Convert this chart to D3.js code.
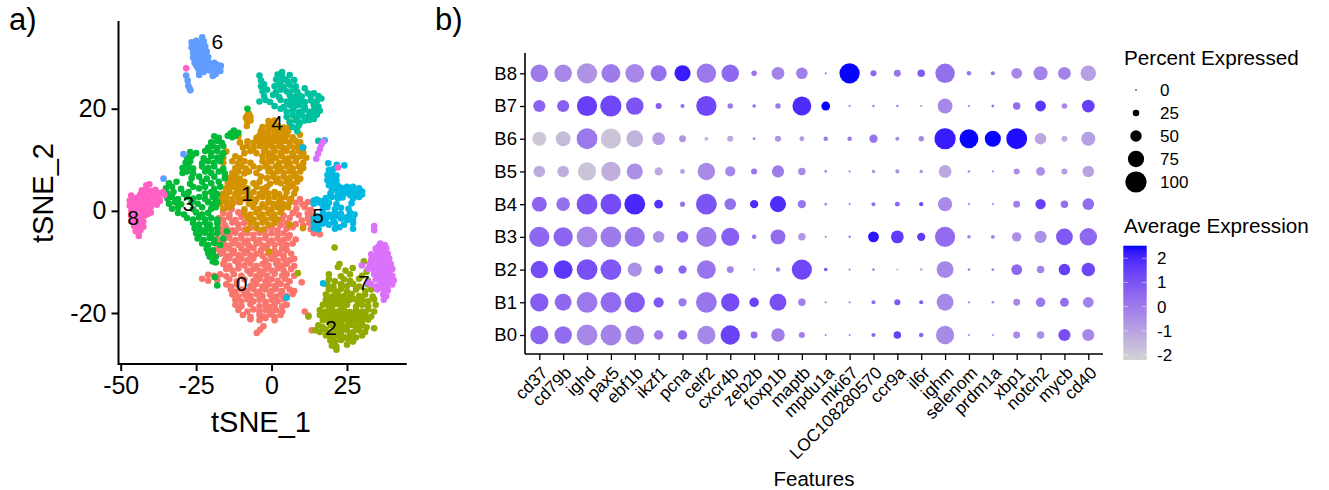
<!DOCTYPE html>
<meta charset="utf-8">
<style>
  html, body { margin: 0; background: #fff; }
  text { font-family: "Liberation Sans", Arial, sans-serif; fill: #000; }
</style>
<body>
<svg id="fig" width="1329" height="490"></svg>
<script src="https://d3js.org/d3.v7.min.js"></script>
<script>
// a) tSNE points, read off the picture cluster by cluster
var c0 = [[9.4,2.3],[8,1.6],[10.2,1.3],[12,1.7],[-13,1.5],[-11,1.8],[-15,.6],[-13.2,.3],[8.2,.4],[11,.7],[13,.2],[-16,-.4],[-14,-.7],[-11,-.3],[4,-.9],[7,-.4],[9,-.8],[12,-.5],[13.6,-.9],[-17.5,-1.4],[-16,-1.7],[-14,-1.3],[-12,-1.8],[-10,-1.2],[3.5,-1.7],[6,-1.4],[10,-1.9],[12,-1.5],[14.2,-1.4],[-17.6,-2.5],[-15.5,-2.8],[-13,-2.3],[-11,-2.7],[-9,-2.4],[3,-2.8],[5,-2.4],[8,-2.6],[10.5,-2.9],[12.5,-2.4],[14.5,-2.7],[-17,-3.6],[-15,-3.3],[-13,-3.8],[-11,-3.4],[-9,-3.7],[-7,-3.3],[-2,-3.6],[0,-3.3],[2,-3.8],[5,-3.5],[7,-3.2],[13,-3.6],[15.5,-3.4],[-16,-4.4],[-14,-4.7],[-12,-4.3],[-10,-4.8],[-8,-4.4],[-6,-4.7],[-4,-4.3],[-2,-4.8],[0,-4.4],[2,-4.7],[4,-4.4],[6,-4.8],[14,-4.4],[16,-4.6],[-18,-5.5],[-16,-5.8],[-14,-5.3],[-12,-5.7],[-10,-5.4],[-8,-5.8],[-6,-5.4],[-4,-5.7],[-2,-5.3],[0,-5.8],[2,-5.4],[4,-5.7],[5.5,-5.3],[8,-5.6],[-17,-6.4],[-15,-6.8],[-13,-6.4],[-11,-6.7],[-9,-6.3],[-7.5,-6.8],[-5,-6.4],[-3,-6.8],[-1,-6.4],[1,-6.7],[3,-6.3],[5,-6.7],[7,-6.4],[-18,-7.4],[-16,-7.7],[-14,-7.4],[-12.5,-7.8],[-10,-7.4],[-8,-7.7],[-6,-7.3],[-3.5,-7.7],[-1.5,-7.4],[1,-7.8],[3.5,-7.4],[5,-7.7],[-17,-8.4],[-15,-8.8],[-13,-8.4],[-11,-8.7],[-9,-8.3],[-7,-8.7],[-5,-8.4],[-3,-8.8],[-1,-8.4],[1,-8.7],[2.5,-8.3],[4,-8.8],[6.5,-8.4],[-15.5,-9.7],[-14,-9.3],[-12,-9.8],[-10,-9.4],[-8,-9.7],[-6,-9.3],[-2,-9.7],[0,-9.4],[2,-9.8],[4,-9.4],[6,-9.7],[7.5,-9.4],[-16,-10.4],[-14,-10.8],[-11,-10.4],[-9,-10.7],[-7,-10.3],[-5,-10.8],[-3,-10.4],[-1,-10.7],[1.5,-10.3],[3.5,-10.7],[5,-10.4],[7.5,-10.8],[-15,-11.4],[-13,-11.7],[-11,-11.3],[-8,-11.7],[-6,-11.4],[-4,-11.8],[-2,-11.4],[0,-11.7],[2,-11.3],[4,-11.7],[6.5,-11.4],[-17,-12.4],[-19,-12.7],[-21,-12.5],[-15,-12.8],[-12.5,-12.4],[-10,-12.7],[-7,-12.3],[-5,-12.8],[-3,-12.4],[-1.5,-12.7],[1,-12.3],[3.5,-12.7],[5,-12.4],[7.5,-12.7],[-23,-13.3],[-21,-13.7],[-18,-13.5],[-14,-13.4],[-11.5,-13.8],[-9,-13.4],[-6,-13.7],[-4,-13.3],[-2,-13.8],[0,-13.4],[2,-13.7],[4.5,-13.3],[6,-13.8],[10,-14],[-15,-14.4],[-13.5,-14.8],[-11.5,-14.4],[-7,-14.7],[-5,-14.3],[-3,-14.8],[-1,-14.4],[1,-14.7],[3,-14.3],[5,-14.7],[-13.5,-15.4],[-12,-15.8],[-10,-15.4],[-8,-15.7],[-6,-15.3],[-4,-15.8],[-2,-15.4],[0,-15.7],[1.5,-15.3],[3.5,-15.7],[6,-15.4],[7.5,-15.7],[-13,-16.4],[-11,-16.8],[-9,-16.4],[-7,-16.7],[-5,-16.3],[-3,-16.7],[-.5,-16.4],[1.5,-16.8],[3,-16.4],[5,-16.7],[7,-16.3],[-12,-17.4],[-10,-17.7],[-8,-17.3],[-6,-17.7],[-4,-17.4],[-2,-17.8],[0,-17.4],[2,-17.7],[4,-17.3],[-12,-18.4],[-10,-18.7],[-7,-18.3],[-4,-18.7],[-2,-18.4],[-.5,-18.8],[1,-18.4],[3.5,-18.7],[5,-18.4],[-11,-19.4],[-8,-19.7],[-6,-19.3],[-4,-19.7],[-2,-19.4],[0,-19.8],[1.5,-19.4],[3.5,-19.7],[-9.5,-20.4],[-7,-20.8],[-4,-20.4],[-2.5,-20.7],[-.5,-20.3],[1,-20.8],[3,-20.4],[-7,-21.2],[-4,-21.4],[-2,-21],[1,-21.4],[11,-19.7],[12.2,-20.5],[13.3,-23.4],[-4.9,-23.9],[-3.8,-23.3],[-2.7,-22.6]];
var c1 = [[-8,18.7],[-7,18.4],[-7.5,19],[-8.5,18.2],[-8,17.5],[-7,17.7],[-1,17.6],[0,17.3],[1,17.7],[6,17.5],[-8.2,16.6],[-3,16.4],[-1,16.8],[.5,16.4],[2,16.7],[4,16.3],[6,16.6],[-3.5,15.6],[-2,15.3],[-1,15.8],[1,15.4],[2.5,15.7],[4,15.3],[5.5,15.6],[-11,14.6],[-5,14.3],[-4,14.7],[-2.5,14.4],[-1,14.8],[.5,14.4],[2,14.7],[3.5,14.3],[5,14.7],[7,14.4],[9.4,14.9],[-10.5,13.4],[-8,13.6],[-6,13.3],[-4.5,13.7],[-3,13.4],[-1.5,13.8],[0,13.4],[1.5,13.7],[3,13.3],[4.5,13.7],[6,13.4],[8,13.7],[9.5,13.4],[-9.5,12.4],[-8,12.7],[-6,12.3],[-4,12.7],[-2,12.4],[-1,12.8],[.5,12.4],[2.5,12.7],[4,12.3],[6,12.7],[7.5,12.4],[9,12.7],[10.5,12.4],[-15,11.6],[-9,11.3],[-7,11.7],[-5,11.3],[-2.5,11.7],[-1,11.3],[1,11.7],[3,11.4],[5,11.7],[7,11.3],[9,11.7],[10.5,11.4],[-16,10.4],[-12,10.7],[-10.5,10.3],[-3,10.7],[-1,10.4],[.3,10.8],[1.5,10.4],[3.5,10.7],[5.5,10.3],[7,10.7],[8.5,10.4],[10,10.7],[11.5,10.4],[-16,9.4],[-13,9.7],[-11,9.3],[-9,9.7],[-7,9.4],[-3,9.7],[-1.5,9.3],[0,9.7],[2.5,9.4],[4.5,9.7],[6,9.3],[8,9.7],[10.5,9.4],[-12,8.4],[-10,8.7],[-8.5,8.3],[-6,8.7],[-4,8.4],[-2,8.7],[-.5,8.3],[1.5,8.7],[3,8.4],[5,8.7],[7,8.3],[9,8.7],[10.5,8.4],[-13,7.4],[-11,7.7],[-9,7.3],[-7.5,7.7],[-5,7.4],[-1,7.7],[.5,7.3],[2,7.7],[4,7.4],[6,7.7],[7.5,7.3],[9.5,7.7],[-14,6.4],[-12,6.7],[-10.5,6.3],[-3.5,6.7],[-1.5,6.4],[.5,6.7],[2,6.3],[4,6.7],[6,6.4],[8,6.7],[9.5,6.3],[-14.5,5.4],[-12.5,5.7],[-11,5.3],[-9,5.7],[-6,5.4],[-4,5.7],[-.5,5.3],[1.5,5.7],[3,5.4],[5,5.7],[7,5.3],[8.5,5.7],[-15,4.4],[-13,4.7],[-11.5,4.3],[-9.5,4.7],[-8,4.4],[-5,4.7],[-3,4.3],[-1.5,4.7],[4.5,4.4],[6,4.7],[8,4.3],[-16,3.4],[-14,3.7],[-12,3.3],[-10,3.7],[-8,3.4],[-6,3.7],[-4,3.3],[-2,3.7],[-1,3.4],[1,3.7],[2.5,3.3],[5,3.7],[7.5,3.4],[-16.5,2.4],[-15,2.7],[-13,2.3],[-11,2.7],[-9,2.4],[-7,2.7],[-5,2.3],[-3,2.7],[-1,2.4],[1,2.7],[3,2.3],[4.5,2.7],[6.5,2.4],[-17,1.4],[-15,1.7],[-13,1.3],[-10.5,1.7],[-7.5,1.4],[-5.5,1.7],[-3,1.3],[-1,1.7],[.5,1.4],[2.5,1.7],[4,1.3],[6,1.7],[-16,.4],[-14,.7],[-9,.3],[-6,.7],[-4,.4],[-2,.7],[0,.3],[2,.7],[3.5,.4],[5.5,.7],[-9,-.4],[-7,-.7],[-5,-.3],[-3,-.7],[-1,-.4],[1,-.7],[3,-.3],[-8,-1.4],[-6,-1.7],[-4,-1.3],[-2,-1.7],[0,-1.4],[2,-1.7],[-7,-2.4],[-5,-2.7],[-3,-2.3],[-1,-2.7],[1,-2.4],[6,-2.7],[-5,-3.4],[-3,-3.7],[-8,-3.6],[10.4,-3.4],[-.8,-8]];
var c2 = [[22.5,-10.4],[22,-11],[26.9,-11.2],[30.6,-9.9],[24.5,-11.7],[19,-12.4],[23,-12.8],[26,-12.4],[30,-12.7],[31.5,-11.9],[19,-13.4],[21,-13.8],[24,-13.4],[26,-13.7],[29,-13.3],[32,-13.7],[18.5,-14.4],[20.5,-14.8],[23,-14.4],[25,-14.7],[27,-14.3],[29,-14.8],[32,-14.4],[19,-15.4],[21,-15.7],[23,-15.3],[25,-15.8],[28,-15.4],[31,-15.7],[33,-15.4],[18,-16.4],[20,-16.8],[22,-16.4],[24,-16.7],[26.5,-16.3],[29,-16.7],[31,-16.4],[33.5,-16.8],[18,-17.4],[20,-17.7],[22,-17.3],[24,-17.7],[26,-17.4],[28.5,-17.8],[30,-17.4],[32,-17.7],[34,-17.3],[17,-18.4],[19,-18.7],[21,-18.3],[23,-18.7],[25,-18.4],[28,-18.8],[30,-18.4],[32,-18.7],[34.5,-18.4],[16,-19.4],[18,-19.7],[20,-19.3],[22,-19.7],[24,-19.4],[26,-19.8],[28,-19.4],[30,-19.7],[32,-19.3],[34,-19.7],[16,-20.4],[18,-20.7],[20,-20.3],[22,-20.7],[24,-20.4],[26,-20.8],[27.5,-20.4],[29,-20.7],[31,-20.3],[33,-20.7],[17,-21.4],[19,-21.7],[21,-21.3],[23,-21.7],[25,-21.4],[27,-21.8],[28.5,-21.4],[30,-21.7],[32,-21.3],[15.5,-22.4],[17,-22.8],[19.5,-22.4],[24,-22.7],[26,-22.3],[28,-22.7],[30,-22.4],[31.5,-22.8],[34,-23],[14.5,-23.4],[16,-23.7],[18,-23.3],[23,-23.7],[25,-23.4],[27,-23.8],[29,-23.4],[31,-23.7],[18,-24.4],[19.5,-24.7],[22,-24.3],[24,-24.7],[26,-24.4],[28,-24.8],[30,-24.4],[19.5,-25.4],[21,-25.7],[23,-25.3],[27,-25.6],[20,-26.4],[21.5,-26.6],[25,-26.2],[21.5,-27.2],[20.9,-7.2],[12.2,-20.7],[8.7,-12.2],[17.5,-20],[19,-20.2],[21,-20],[23,-20.2],[25,-20],[27,-20.2],[29,-20.1],[31,-19.9],[18,-21],[20,-21],[22,-21],[24,-21],[26,-21.2],[28,-21],[30,-21],[21,-22.3],[22.5,-22],[23,-22.8],[25,-22.6],[27,-22.4],[29,-22.6],[21,-23],[22,-23.5],[20,-24],[21,-24.6],[23,-25],[25,-25],[26,-25.3],[19,-17.2],[21,-17],[23,-17.2],[25,-17],[27,-17.2],[18.5,-18],[20,-18.2],[22,-18.1]];
var c3 = [[-12.5,15.7],[-11,15.3],[-13.5,15.2],[-19,14.6],[-17.5,14.3],[-14.5,14.7],[-13,14.4],[-12,14.7],[-20,13.4],[-18,13.7],[-16.5,13.3],[-21,12.4],[-19.5,12.7],[-18,12.3],[-16,12.7],[-27,11.5],[-25,11.3],[-22,11.7],[-20,11.4],[-18,11.7],[-16,11.3],[-28,10.4],[-26.5,10.7],[-22.5,10.3],[-20,10.7],[-18,10.4],[-16.5,10.7],[-28.5,9.4],[-27,9.7],[-23,9.3],[-21,9.7],[-19,9.4],[-17,9.7],[-29.5,8.4],[-27.5,8.7],[-26,8.3],[-23,8.7],[-21,8.4],[-19,8.7],[-16,8.3],[-29.5,7.4],[-28,7.7],[-26,7.3],[-22,7.7],[-20,7.4],[-17.5,7.7],[-15.5,7.3],[-26.5,6.4],[-24,6.7],[-21.5,6.3],[-19,6.7],[-15.5,6.4],[-34,5.4],[-31.5,5.7],[-27,5.3],[-23,5.7],[-20,5.4],[-17.5,5.7],[-35,4.4],[-33,4.7],[-30,4.3],[-26,4.7],[-24,4.4],[-22,4.7],[-19,4.3],[-17,4.7],[-34.5,3.4],[-32.5,3.7],[-29,3.3],[-27.5,3.7],[-22,3.4],[-20,3.7],[-18,3.3],[-34.5,2.4],[-33,2.7],[-31,2.3],[-28,2.7],[-26,2.4],[-24,2.7],[-22,2.3],[-19.5,2.7],[-18.5,2.2],[-34,1.4],[-32,1.7],[-30,1.3],[-26.5,1.7],[-24.5,1.4],[-21,1.7],[-19.5,1.3],[-18,1.7],[-33,.4],[-31,.7],[-26,.3],[-23,.7],[-20,.4],[-18.5,.7],[-31,-.4],[-29,-.7],[-25,-.3],[-23,-.7],[-21,-.4],[-28,-1.4],[-26,-1.7],[-24,-1.3],[-22,-1.7],[-20,-1.4],[-18,-1.7],[-26,-2.4],[-24,-2.7],[-22,-2.3],[-20.5,-2.7],[-18,-2.4],[-25.5,-3.4],[-23.5,-3.7],[-21.5,-3.3],[-20,-3.7],[-18,-3.4],[-14.8,-4],[-25,-4.4],[-24,-4.7],[-22,-4.3],[-20,-4.7],[-18,-4.4],[-24.5,-5.4],[-22.5,-5.7],[-20.5,-5.3],[-19,-5.7],[-16,-5.4],[-23,-6.4],[-21,-6.7],[-19,-6.3],[-17,-6.7],[-21.5,-7.4],[-19.5,-7.7],[-21,-8.3],[-20,-8.6],[-19.5,-8.2],[-20.5,-9],[-19.5,-9.3],[-18.5,-9],[-19.5,-9.9],[-18.5,-10.1],[-18.8,-13],[-18,-14.6],[-8,20],[-2.4,24]];
var c4 = [[3.5,27.2],[-4,26.5],[2,26.7],[3.5,26.3],[6,26.6],[-3.5,25.5],[1.5,25.7],[3,25.3],[4.5,25.7],[5.5,25.3],[7.5,25.6],[-3.5,24.4],[-2.5,24.8],[1,24.4],[2.5,24.7],[4,24.3],[6,24.7],[8,24.4],[11,24],[-3,23.4],[-1.5,23.7],[1.5,23.3],[3,23.7],[5,23.4],[7,23.7],[8.5,23.3],[12,23],[14,23],[-2.5,22.5],[.5,22.7],[2.5,22.3],[6,22.7],[7.5,22.3],[9,22.7],[10,22.4],[13,22.5],[15.5,22.5],[16.5,22],[-4,21.4],[-2,21.7],[-.5,21.3],[3,21.7],[5,21.4],[6.5,21.7],[8,21.3],[9.5,21.7],[11,21.3],[13,21.6],[15,21.5],[1,20.5],[3,20],[4,20.3],[6,20.7],[7.5,20.4],[9,20.7],[11,20.3],[14,20.7],[15.5,20.4],[5,19.4],[7,19.7],[9,19.3],[10.5,19.7],[12.5,19.4],[14,19.7],[16,19.6],[5,18.4],[7,18.7],[8.5,18.3],[10,18.7],[12,18.4],[13.5,18.7],[15,18.8],[6,17.4],[8,17.7],[9.5,17.3],[11,17.7],[12.5,17.8],[14,18],[7,16.4],[9,16.7],[8.5,15.6],[15.5,13.7]];
var c5 = [[18.8,9.3],[21.6,9],[24.1,8.9],[19,8],[20.5,8.2],[18.5,7],[20,7.3],[21.5,6.9],[18.5,6],[20,6.2],[21.5,5.9],[19,5],[20.5,5.2],[22,4.9],[23,4.5],[25,4.7],[26,4.4],[27,4.7],[29,4.4],[20,4],[21.5,4.2],[23.5,3.9],[25,3.7],[27,3.8],[28.5,4],[30,3.8],[19.5,3.4],[22,3.2],[24,3.4],[26,3.1],[28,3.3],[30,3.2],[18,2.5],[20,2.7],[22,2.4],[23.5,2.6],[27,2.4],[29,2.7],[14,2],[15,2.2],[16.5,1.9],[14,1.4],[16,1.6],[17.5,1.3],[19,1.6],[21.5,1.3],[26.5,1.5],[17,.4],[18.5,.7],[21,.3],[23,.6],[25.5,.4],[17,-.4],[19,-.7],[21,-.3],[23,-.6],[26,-.4],[27.5,-.7],[15,-1],[16.5,-1.2],[18,-.9],[20,-1.2],[22,-1],[25,-1.2],[27,-1],[14,-1.5],[16,-1.8],[18,-1.6],[20.5,-1.8],[23,-1.5],[25,-1.8],[27,-1.6],[14,-2.4],[15.5,-2.7],[17,-2.5],[19,-2.7],[21,-2.4],[24,-2.7],[27,-2.4],[14,-3.4],[15.5,-3.6],[21,-3.5],[22.5,-3.2],[27,-3.5],[17.6,13.8],[10.4,12.4],[17.1,-14.2],[5,-17]];
var c6 = [[-23,34],[-26.5,33],[-25,33.3],[-23.5,32.9],[-22.5,33.2],[-26.5,32],[-25,32.3],[-23.5,31.9],[-22,32.2],[-26,31],[-24.5,31.2],[-23,30.9],[-21.5,31.2],[-26,30],[-24.5,30.2],[-22.5,29.9],[-21,30.1],[-25.5,29],[-24,29.2],[-22.5,28.9],[-21,29.2],[-19,29],[-24.5,28],[-23,28.2],[-21.5,27.9],[-20,28.2],[-18,28],[-16.8,28.4],[-24,27.4],[-22.5,27.2],[-20.5,27.5],[-18.5,27.2],[-17,27.4],[-24,26.6],[-19.5,26.4],[-18.5,26.8],[-24,32.5],[-25.5,31.6],[-23.6,30.4],[-22,30.6],[-25,28.5],[-23,29.4],[-21,28.6],[-19.5,28.7],[-18,28.6],[-22,27.6],[-28.3,26.5],[-27.8,25.5],[-27.6,24.5],[-27.2,24],[-26.9,23.6],[-35.8,6.3],[-29.2,11.1]];
var c7 = [[36,-6.4],[37.5,-6.7],[34.5,-7.4],[36,-7.7],[38,-7.3],[33,-8.5],[35,-8.3],[37,-8.7],[38.5,-8.4],[33,-9.6],[35,-9.3],[37,-9.7],[39,-9.4],[32.5,-10.4],[34,-10.7],[36,-10.3],[38,-10.7],[39.5,-10.4],[32,-11.4],[34,-11.7],[36,-11.3],[38,-11.7],[40,-11.4],[34,-12.4],[36,-12.7],[38,-12.3],[40,-12.7],[34.5,-13.4],[36,-13.7],[38,-13.3],[40.5,-13.6],[33,-14.4],[35,-14.7],[37,-14.3],[38.5,-14.7],[40,-14.4],[35,-15.4],[37,-15.3],[38.5,-15.6],[37,-16.4],[38,-16.7],[37.2,-17.4],[35.5,-7],[37,-7.6],[34,-9],[36,-9],[38,-9],[33.5,-10],[35.5,-10],[37.5,-10],[39.6,-11],[33,-11],[35,-11],[37,-11],[39,-12],[35,-12],[37,-12],[39,-13],[37,-13],[35,-13],[37,-14],[39,-14.2],[36,-15],[29.9,-10.7],[32,-14],[34,-3],[34,-3.8],[17.2,13.6],[16.5,13],[16,12.1],[15.4,11.2],[14.8,10.2]];
var c8 = [[-41.5,5],[-40.5,5.2],[-43,4],[-41.5,4.2],[-40,3.9],[-38.5,4.1],[-37.5,3.5],[-36,3.7],[-46.5,3],[-43.5,3.2],[-42,2.9],[-40.5,3.1],[-39,2.8],[-37.5,2.7],[-35.5,3.1],[-47,2],[-45,2.2],[-43,1.9],[-41,2.1],[-39,1.8],[-37,2],[-47,1],[-45,1.2],[-43.5,.9],[-42,1.1],[-40,.8],[-38,1.2],[-46.5,0],[-45,.2],[-43,-.1],[-41.5,.1],[-40,-.3],[-46.5,-1],[-45,-.8],[-43.5,-1.1],[-42,-.9],[-46,-2],[-44.5,-1.8],[-42.5,-2.1],[-45.5,-3],[-44,-2.8],[-42.5,-3.1],[-45,-4],[-43.5,-3.8],[-44,-4.9],[-44.5,2.6],[-42.5,3.6],[-41,2.7],[-38,3.4],[-46,1.5],[-44,1.5],[-42,1.5],[-40,1.5],[-38.5,2.4],[-46,.5],[-44,.5],[-42,.4],[-41,-.6],[-45,-1.4],[-43.5,-1.7],[-44.5,-3.4],[-28.3,27.9],[22,8.5]];
var tsneClusters = [c0, c1, c2, c3, c4, c5, c6, c7, c8];
var tsneColours = ['#F8766D','#D39200','#93AA00','#00BA38','#00C19F','#00B9E3','#619CFF','#DB72FB','#FF61C3'];
var clusterLabels = [['0',-9.9,-15.6],['1',-8.1,1.9],['2',19.7,-24.4],['3',-27.6,-.1],['4',1.8,15.9],['5',15.4,-2.4],['6',-18,31.6],['7',30.6,-15.4],['8',-45.9,-2.8]];

// b) dot plot
var features = ['cd37','cd79b','ighd','pax5','ebf1b','ikzf1','pcna','celf2','cxcr4b','zeb2b','foxp1b','maptb','mpdu1a','mki67','LOC108280570','ccr9a','il6r','ighm','selenom','prdm1a','xbp1','notch2','mycb','cd40'];
var groups = ['B8','B7','B6','B5','B4','B3','B2','B1','B0'];
var pctExp = [
  [81,81,95,88,88,74,74,91,81,20,57,51,3,95,23,27,30,91,15,12,47,64,57,71],
  [54,54,95,100,81,23,13,95,20,10,20,88,37,3,5,5,3,68,3,6,30,47,20,57],
  [64,68,98,95,78,57,27,13,23,6,23,17,15,15,34,12,20,100,88,74,98,51,23,64],
  [51,51,85,91,74,34,17,81,44,23,54,30,6,3,10,13,10,57,5,3,23,37,23,51],
  [68,61,98,98,98,37,18,98,51,34,74,34,5,3,12,17,13,64,3,3,27,44,30,51],
  [95,91,98,98,95,51,51,95,85,15,68,30,3,5,47,57,34,95,10,12,40,54,78,81],
  [81,88,98,98,64,37,34,88,27,3,15,95,10,3,6,1,5,78,5,6,47,30,51,61],
  [85,78,98,98,95,44,34,98,85,40,78,30,3,3,12,23,13,78,3,5,27,40,37,47],
  [85,81,98,98,88,40,40,85,91,27,61,23,3,3,13,30,15,85,3,3,27,30,54,54]
];
var avgExp = [
  [0,-.3,-.6,0,-.3,.3,2.2,.1,.5,.2,-.2,-.1,0,2.5,.5,.2,.9,.3,.2,.3,-.3,-.2,-.2,-.9],
  [.6,.7,1.5,1.3,1,.7,.4,1.3,.1,.3,0,1.9,2.5,.2,-.3,-.3,-.5,-.3,-.1,.1,.4,1.7,-.3,1.5],
  [-1.9,-1.6,.1,-1.8,-1.4,-.9,-.6,-1.6,-1.2,-.3,-.6,-.8,-.1,.1,.2,-.4,-.3,2.2,2.5,2.5,2.4,-1.1,-1.3,-.9],
  [-1.2,-1.3,-1.8,-1.3,-.5,-1.2,-.9,-.4,-.3,.2,0,-.4,-.3,-.2,-.7,-.5,-.6,-1.1,-.3,-.3,-.5,-.5,-.9,-1],
  [.6,.3,1,1.2,2,1.8,.2,1,.3,1.9,1.9,.2,-.3,-.3,.3,.6,1.3,-.4,-.3,-.5,-.1,1.5,.3,.4],
  [.5,.6,-.3,0,.2,-.5,.4,0,.7,.1,.4,-.7,-.3,-.2,2.3,1.6,1.6,.4,-.1,-.1,-.5,-.5,.9,.5],
  [1.2,1.7,1.1,.9,-.5,.7,.6,.2,-.2,-.3,-.3,1.3,1,-.1,-.2,-.8,-.9,-.3,-.1,-.1,.5,-.2,1.5,1.3],
  [.8,.5,.1,.4,.8,.9,.1,.2,1.2,1.4,1.1,-.1,-.3,-.2,.5,.9,.8,-.3,-.3,-.3,-.3,.1,.3,-.2],
  [.6,.4,-.3,-.2,-.2,0,.4,-.3,1.4,.4,-.1,-.1,-.3,-.3,.5,1.5,.6,-.4,-.3,-.3,-.3,-.5,1.1,-.3]
];
var sizeBreaks = [0,25,50,75,100];
var colourBreaks = [2,1,0,-1,-2];

var svg = d3.select('#fig');
svg.append('rect').attr('width',1329).attr('height',490).attr('fill','#fff');

// ---- a) ----
var x1 = d3.scaleLinear().domain([-50,25]).range([120.7,347]);
var y1 = d3.scaleLinear().domain([-20,20]).range([313,108.7]);
var g1 = svg.append('g');

tsneClusters.forEach(function(pts,i){
  g1.append('g').selectAll('circle').data(pts).enter().append('circle')
    .attr('cx',function(d){return x1(d[0])})
    .attr('cy',function(d){return y1(d[1])})
    .attr('r',3.3)
    .attr('fill',tsneColours[i]);
});

g1.selectAll('.clab').data(clusterLabels).enter().append('text')
  .attr('class','clab')
  .attr('x',function(d){return x1(d[1])})
  .attr('y',function(d){return y1(d[2])})
  .attr('text-anchor','middle')
  .style('font-size','21px')
  .text(function(d){return d[0]});

function styleAxis(g,size){
  g.selectAll('path').attr('stroke','#000').attr('stroke-width',2);
  g.selectAll('line').attr('stroke','#000').attr('stroke-width',2);
  g.selectAll('text').style('font-size',size+'px').attr('fill','#000').style('font-family','"Liberation Sans", Arial, sans-serif');
}

var xAx1 = g1.append('g').attr('transform','translate(0,364)')
  .call(d3.axisBottom(x1).tickValues([-50,-25,0,25]).tickSize(7).tickPadding(5).tickFormat(String));
xAx1.select('.domain').attr('d','M118.5,0H406.7');
styleAxis(xAx1,25);
var yAx1 = g1.append('g').attr('transform','translate(118.5,0)')
  .call(d3.axisLeft(y1).tickValues([-20,0,20]).tickSize(7).tickPadding(5).tickFormat(String));
yAx1.select('.domain').attr('d','M0,21V365');
styleAxis(yAx1,25);

g1.append('text').attr('x',261).attr('y',432).attr('text-anchor','middle').style('font-size','29px').text('tSNE_1');
g1.append('text').attr('transform','translate(53,193) rotate(-90)').attr('text-anchor','middle').style('font-size','29px').text('tSNE_2');
svg.append('text').attr('x',9).attr('y',30).style('font-size','31px').text('a)');
svg.append('text').attr('x',435).attr('y',30).style('font-size','31px').text('b)');

// ---- b) ----
var x2 = d3.scalePoint().domain(features).range([539.3,1088.3]);
var y2 = d3.scalePoint().domain(groups).range([73.3,335]);
var rad = d3.scaleLinear().domain([0,100]).range([.8,10.6]);
var col = d3.scaleLinear().domain([-2.2,2.52]).range(['#D3D3D3','#0000FF']).interpolate(d3.interpolateLab);
var g2 = svg.append('g');

var rows = g2.selectAll('.row').data(groups).enter().append('g').attr('class','row');
rows.selectAll('circle')
  .data(function(g,i){return features.map(function(f,j){return {f:f,g:g,p:pctExp[i][j],a:avgExp[i][j]}})})
  .enter().append('circle')
  .attr('cx',function(d){return x2(d.f)})
  .attr('cy',function(d){return y2(d.g)})
  .attr('r',function(d){return rad(d.p)})
  .attr('fill',function(d){return col(d.a)});

var xAx2 = g2.append('g').attr('transform','translate(0,354)')
  .call(d3.axisBottom(x2).tickSize(6));
xAx2.select('.domain').attr('d','M525,0H1103');
styleAxis(xAx2,17.3);
xAx2.selectAll('path').attr('stroke-width',1.6);
xAx2.selectAll('line').attr('stroke-width',1.3);
xAx2.selectAll('text')
  .attr('text-anchor','end').attr('dy',null).attr('y',null)
  .attr('transform','translate(9,20) rotate(-45)');

var yAx2 = g2.append('g').attr('transform','translate(525,0)')
  .call(d3.axisLeft(y2).tickSize(5).tickPadding(3));
yAx2.select('.domain').attr('d','M0,53V354');
styleAxis(yAx2,18.5);
yAx2.selectAll('path').attr('stroke-width',1.6);
yAx2.selectAll('line').attr('stroke-width',1.3);

g2.append('text').attr('x',814).attr('y',486).attr('text-anchor','middle').style('font-size','20.5px').text('Features');

// legends
var legend = svg.append('g');
legend.append('text').attr('x',1124).attr('y',65).style('font-size','20.7px').text('Percent Expressed');
var legY = d3.scalePoint().domain(sizeBreaks).range([90,182]);
legend.selectAll('.sz').data(sizeBreaks).enter().append('circle').attr('class','sz')
  .attr('cx',1136).attr('cy',function(d){return legY(d)}).attr('r',function(d){return rad(d)}).attr('fill','#000');
legend.selectAll('.szl').data(sizeBreaks).enter().append('text').attr('class','szl')
  .attr('x',1160).attr('y',function(d){return legY(d)+6}).style('font-size','17px').text(function(d){return d});

legend.append('text').attr('x',1124).attr('y',233).style('font-size','20.7px').text('Average Expression');
var barY = d3.scaleLinear().domain([-2,2]).range([355,258.3]);
var defs = svg.append('defs');
var grad = defs.append('linearGradient').attr('id','barfill').attr('x1',0).attr('x2',0).attr('y1',1).attr('y2',0);
d3.range(0,21).forEach(function(i){
  var t = i/20;
  grad.append('stop').attr('offset',t).attr('stop-color',col(-2.2 + t*4.72));
});
legend.append('rect').attr('x',1123.3).attr('y',245.7).attr('width',23.4).attr('height',114.3).attr('fill','url(#barfill)');
colourBreaks.forEach(function(b){
  legend.append('path').attr('d','M1123.3,'+barY(b)+'h4.7M1142,'+barY(b)+'h4.7').attr('stroke','#fff').attr('stroke-width',.6).attr('opacity',.8);
  legend.append('text').attr('x',1157).attr('y',barY(b)+6).style('font-size','17px').text(b);
});
</script>
</body>
